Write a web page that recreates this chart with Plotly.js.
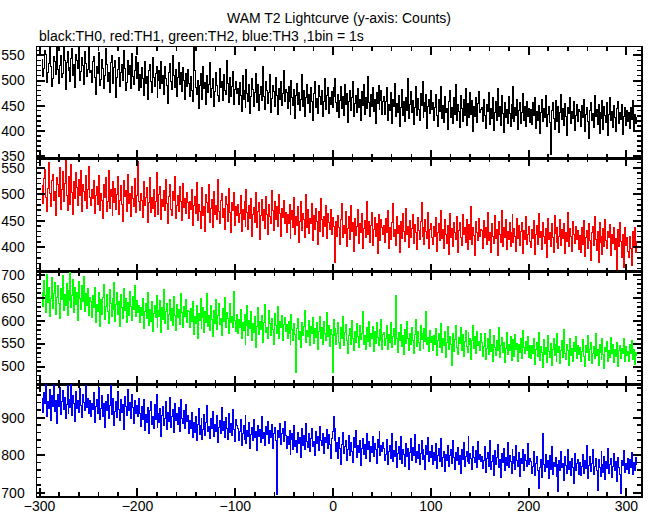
<!DOCTYPE html>
<html><head><meta charset="utf-8">
<script src="https://cdn.plot.ly/plotly-3.0.1.min.js"></script>
<style>html,body{margin:0;padding:0;background:#fff}
.scatterlayer path.js-line{shape-rendering:crispEdges}</style>
</head><body><div id="chart" style="width:652px;height:515px"></div>
<script>
const TITLE = "WAM T2 Lightcurve (y-axis: Counts)";
const SUBTITLE = "black:TH0, red:TH1, green:TH2, blue:TH3 ,1bin = 1s";
const binStart = -298;
const binWidth = 1;

const th0 = [
541,508,523,560,552,497,516,533,579,528,489,503,547,538,512,566,521,495,530,549,506,514,571,540,482,
535,557,519,526,498,544,563,510,531,487,552,539,524,568,501,517,546,529,493,558,533,507,522,575,515,
519,496,537,548,505,473,528,513,556,490,502,541,524,484,509,563,531,498,515,477,535,550,511,494,526,
539,467,506,521,545,488,516,532,501,559,523,480,497,540,512,529,485,554,508,493,520,547,503,536,481,
512,486,525,503,471,537,494,508,462,519,531,499,477,545,506,489,514,528,466,501,520,484,538,495,510,
473,527,504,491,455,516,533,498,482,550,509,487,522,469,506,535,492,515,478,526,500,463,513,489,521,
495,468,507,481,459,574,519,486,472,501,444,490,513,477,462,528,485,497,453,509,476,492,536,466,484,
503,449,478,515,491,470,458,524,487,499,461,511,480,473,539,494,457,506,469,488,517,452,483,498,475,
485,452,497,471,438,509,463,480,446,521,474,459,492,435,468,503,482,449,477,514,456,493,441,472,488,
460,527,469,443,498,481,454,476,512,437,465,490,478,448,506,470,433,484,462,499,451,475,519,458,483,
477,444,489,458,432,501,466,450,483,425,470,495,453,476,440,462,511,448,481,429,467,492,455,473,437,
486,459,421,474,498,447,464,435,490,469,452,480,428,458,504,443,471,487,434,466,453,479,446,486,468,
503,457,439,472,426,461,488,445,468,431,493,452,475,417,459,481,440,466,499,428,454,470,436,485,447,
462,421,478,451,492,433,467,444,508,456,429,473,449,486,438,463,415,477,454,490,443,460,481,432,458,
468,433,459,487,421,452,440,476,414,462,449,495,428,455,437,471,409,446,483,430,458,419,467,441,503,
425,453,478,436,461,412,447,489,431,465,443,420,474,450,498,427,456,438,472,405,449,463,434,481,442,
457,420,446,473,431,409,462,439,488,425,451,416,469,436,444,402,458,481,427,447,414,466,433,492,421,
452,438,407,471,445,419,463,430,484,411,455,440,426,476,433,461,398,449,428,467,417,454,479,436,443,
447,418,462,431,404,453,439,477,412,444,425,466,401,437,458,420,485,429,449,411,471,434,397,456,427,
442,415,468,435,408,452,424,489,419,446,431,463,403,440,457,414,436,474,421,448,409,459,428,445,417,
442,413,457,430,466,404,438,421,451,395,436,462,418,445,427,470,409,433,448,416,353,440,456,425,403,
461,432,419,449,397,437,473,422,444,410,455,428,391,446,434,467,415,439,424,458,400,431,452,418,443,
438,409,451,426,463,399,432,447,418,384,441,457,420,435,406,470,428,443,413,452,395,437,424,461,402,
448,431,417,456,390,433,466,421,439,407,450,426,398,444,459,415,436,422,453,392,429,447,411,440,418,
437,405,446,423,461,398,432,415,428];

const th1 = [
516,483,529,547,494,468,511,560,502,477,525,538,489,506,459,531,518,495,550,472,508,543,486,521,564,
497,470,514,533,481,556,503,462,524,491,540,512,479,527,498,545,467,519,505,488,536,474,509,552,493,
478,509,492,525,463,497,514,481,536,470,502,488,455,519,493,531,467,486,545,474,508,496,459,523,484,
511,471,500,533,462,489,517,480,449,526,495,507,468,538,483,501,458,514,491,476,529,466,498,562,487,
470,501,489,456,523,478,494,512,447,485,531,466,493,474,509,458,487,540,481,462,499,515,452,490,476,
507,469,528,483,445,496,518,472,460,505,488,533,455,479,497,467,514,486,451,520,475,492,463,503,484,
455,487,472,509,441,478,496,463,522,450,481,467,435,493,512,459,476,430,499,484,465,518,447,473,490,
437,506,462,479,453,527,468,444,488,501,457,474,433,495,481,449,511,466,428,485,470,503,442,477,460,
481,446,463,498,429,471,452,487,440,509,466,433,478,455,492,421,461,475,447,503,437,468,484,415,459,
490,450,472,436,496,462,425,481,458,444,507,469,431,486,453,476,440,499,464,420,473,457,489,445,466,
428,462,445,481,416,453,470,437,493,424,458,441,476,409,449,487,431,464,452,419,500,438,471,426,455,
445,482,413,460,434,474,448,405,467,429,491,453,421,458,440,479,417,463,446,434,472,425,457,439,386,
371,448,421,459,437,406,452,483,419,441,426,467,401,435,458,414,479,430,447,392,455,422,439,472,408,
444,428,463,397,436,451,418,486,425,449,410,441,466,404,433,457,420,445,389,461,431,413,452,437,424,
441,409,454,428,469,398,437,415,446,482,421,433,403,458,426,441,390,449,417,463,430,411,474,424,439,
400,451,419,436,461,407,443,427,395,456,432,414,448,485,420,438,405,452,429,416,466,397,433,445,418,
405,439,421,456,393,428,444,412,470,417,433,398,452,425,408,441,387,463,419,435,401,447,428,414,458,
391,431,446,418,403,461,424,437,409,452,396,429,443,415,476,406,437,422,385,449,427,413,455,420,434,
432,398,451,419,437,405,466,412,428,391,444,421,407,459,416,433,384,448,425,410,470,402,438,419,453,
395,430,414,446,401,427,462,409,436,420,393,455,417,441,404,429,447,388,432,415,458,406,424,439,411,
399,434,416,451,387,425,442,406,463,418,430,395,447,421,408,436,380,455,414,428,401,444,419,391,459,
426,410,437,398,421,452,404,433,416,445,389,427,411,466,402,435,420,393,449,424,407,440,415,431,396,
422,390,437,406,451,383,419,431,398,444,412,376,427,440,403,458,415,394,429,372,446,409,421,387,436,
401,452,413,397,430,419,443,385,424,407,438,395,416,359,433,402,447,411,380,425,362,437,404,418,393,
381,420,398,366,429,403,438,391,412];

const th2 = [
662,631,687,655,618,701,640,673,609,648,694,627,659,683,614,651,676,638,604,669,645,698,622,657,634,
680,611,666,643,707,629,654,690,617,672,636,661,600,685,648,625,677,641,696,620,658,633,671,612,650,
641,607,654,628,673,596,635,619,662,588,645,613,651,679,602,631,657,620,594,667,638,609,648,625,683,
599,636,661,614,642,587,657,629,604,670,621,648,595,639,612,664,630,601,653,624,676,608,643,617,634,
596,629,611,648,583,620,637,604,661,590,625,599,642,577,616,633,607,655,586,621,610,643,574,628,603,
667,594,619,638,581,614,647,600,626,589,653,612,579,635,606,624,592,658,617,584,631,609,645,597,622,
619,585,627,598,641,570,608,593,634,561,615,601,649,583,606,628,575,620,596,659,587,611,579,632,603,
566,623,594,645,580,612,637,591,604,568,626,599,651,584,617,605,573,638,596,610,586,663,601,577,614,
572,603,586,625,561,597,579,614,548,590,632,567,601,583,619,556,594,575,609,542,588,628,570,599,581,
612,553,595,636,574,586,560,621,593,567,604,580,547,616,589,571,630,562,598,584,611,557,592,606,576,
591,562,598,571,547,613,580,556,594,569,486,583,604,559,577,541,596,568,587,622,553,579,565,601,546,
588,572,607,551,583,564,595,538,576,610,561,585,549,599,573,557,618,566,590,544,581,570,488,603,567,
582,548,571,597,553,539,586,562,608,545,574,591,556,529,568,583,547,600,561,535,577,552,594,566,541,
589,558,573,620,549,567,537,584,555,598,543,571,560,587,533,576,550,595,564,546,581,557,603,538,569,
574,545,561,589,538,570,553,597,541,566,583,549,654,560,531,575,556,592,543,568,527,580,551,599,562,
536,573,548,586,557,529,569,603,544,577,552,534,590,559,571,540,582,555,619,547,564,532,578,553,566,
535,568,549,582,524,556,571,541,593,530,560,546,577,519,552,587,538,565,547,503,572,533,558,590,542,
527,563,551,584,536,569,521,555,579,544,531,574,548,562,516,557,589,539,566,529,576,545,554,534,571,
553,521,544,572,516,539,560,527,581,533,548,512,567,541,524,557,535,585,519,546,563,530,552,508,540,
575,526,549,536,565,514,543,558,522,570,537,551,510,547,531,562,518,579,542,528,555,534,566,520,545,
517,546,529,561,505,538,552,521,575,513,543,530,497,558,526,541,509,567,533,519,550,502,537,562,524,
548,511,571,531,544,507,536,556,520,581,528,515,549,535,503,560,523,539,512,553,532,566,518,545,527,
542,510,533,558,521,499,545,530,567,514,537,552,506,529,544,518,573,524,538,503,549,531,516,560,526,
495,541,532,555,512,534,519,564,528,547,508,538,522,553,501,535,546,517,540,529,562,511,543,524,532,
510,547,529,556,515,538,504,531,522];

const th3 = [
951,914,968,937,990,902,944,925,976,893,958,931,999,916,947,885,963,929,981,908,942,972,921,954,897,
936,985,912,949,928,1003,906,959,938,889,970,924,945,915,979,933,900,962,941,919,987,927,952,910,946,
903,939,921,966,888,930,949,912,981,895,925,958,904,937,873,944,919,962,897,932,986,909,927,951,880,
916,942,901,970,923,893,948,914,935,868,956,929,906,975,918,940,899,961,926,884,945,911,933,903,952,
912,877,931,896,949,865,908,886,927,859,918,943,881,903,870,936,894,962,873,912,888,924,851,906,931,
879,897,944,868,915,889,955,874,902,921,860,937,893,912,881,926,864,948,899,885,919,872,934,890,907,
858,893,870,914,846,887,861,902,838,881,925,855,879,897,842,868,909,853,886,932,864,877,845,898,871,
916,849,883,862,906,835,874,893,857,928,866,889,848,901,872,842,911,860,884,853,921,869,837,895,878,
871,838,862,894,826,857,879,843,905,831,866,849,887,819,855,874,838,896,847,862,812,880,851,869,833,
903,844,861,825,877,855,891,830,866,848,882,817,859,873,840,694,865,846,884,829,857,871,836,889,852,
818,851,829,866,801,842,857,815,879,824,839,806,861,832,848,795,870,827,853,814,884,836,820,858,809,
845,872,823,837,799,863,831,850,812,876,840,826,859,804,847,835,868,817,855,829,790,844,862,903,838,
871,809,834,792,846,818,776,829,861,804,823,840,787,815,853,799,833,811,781,848,821,866,795,827,808,
839,773,818,845,802,829,791,857,814,836,784,823,806,849,797,831,815,778,842,820,864,800,826,811,835,
817,785,803,842,776,809,826,791,858,783,812,797,836,768,805,823,789,849,779,815,801,770,832,796,818,
763,807,844,786,821,798,855,780,811,792,829,774,804,838,789,816,799,761,825,803,847,782,810,794,827,
776,808,787,831,765,799,818,782,845,771,795,810,757,803,787,826,769,798,814,779,839,793,763,806,787,
821,774,800,752,816,788,833,770,797,811,784,849,778,804,791,762,823,795,780,812,767,836,789,801,783,
797,764,786,822,755,790,807,771,838,762,784,799,747,812,776,793,828,766,789,741,805,781,819,758,795,
772,834,768,800,783,751,814,779,796,761,826,787,770,808,744,792,777,816,760,803,785,769,831,776,791,
784,752,771,809,745,778,797,760,712,766,789,741,857,774,756,803,768,785,737,799,763,822,749,781,770,
794,742,776,702,787,758,811,767,779,733,796,773,752,815,761,782,746,791,768,725,804,759,777,788,749,
781,746,769,802,751,785,764,826,739,773,796,757,779,814,748,771,792,760,705,788,767,743,809,775,754,
797,736,782,764,819,752,776,791,741,770,805,758,783,729,794,766,748,698,787,772,813,753,779,761,790,
752,789,766,807,748,781,760,795,774];

const seriesValues = [th0, th1, th2, th3];
const seriesNames = ["TH0", "TH1", "TH2", "TH3"];
const seriesColors = ["#000000", "#ff0000", "#00ff00", "#0000ff"];
const xRange = [-302.7, 314.9];
const yRanges = [[345.5, 566.5], [354.5, 567.5], [461.5, 707], [691, 989.5]];
const yDticks = [50, 50, 50, 100];
const yMinorDticks = [10, 10, 10, 20];
const domains = [[0.752, 1], [0.5, 0.752], [0.249, 0.5], [0, 0.249]];

const font = {family: "Liberation Sans, Arial, sans-serif", size: 14, color: "#000"};
const traces = [];
const layout = {
  width: 652, height: 515,
  margin: {l: 37, r: 11, t: 47, b: 19, pad: 0},
  paper_bgcolor: "#fff", plot_bgcolor: "#fff",
  showlegend: false,
  font: font,
  title: {text: TITLE, font: font, x: 0.5, xref: "paper", xanchor: "center", y: 1 - 18/515, yref: "container", yanchor: "middle"},
  annotations: [{text: SUBTITLE, xref: "paper", yref: "paper", x: 0, y: 1 + 11/449, xanchor: "left", yanchor: "middle", showarrow: false, font: font}]
};

seriesValues.forEach((vals, i) => {
  const sfx = i === 0 ? "" : String(i + 1);
  traces.push({
    type: "scatter", mode: "lines", name: seriesNames[i],
    x: vals.map((_, k) => binStart + k * binWidth),
    y: vals,
    xaxis: "x" + sfx, yaxis: "y" + sfx,
    line: {color: seriesColors[i], width: 1, shape: "hv"},
    hoverinfo: "skip"
  });
  layout["xaxis" + sfx] = {
    anchor: "y" + sfx, domain: [0, 1], range: xRange,
    tick0: 0, dtick: 100, ticks: "inside", ticklen: 8, tickwidth: 2, tickcolor: "#000",
    showline: true, linecolor: "#000", linewidth: 1.5, mirror: "ticks",
    showgrid: false, zeroline: false, showticklabels: i === 3, tickfont: font,
    ticklabelstandoff: -3,
    minor: {tick0: 0, dtick: 20, ticks: "inside", ticklen: 4, tickwidth: 1.5, tickcolor: "#000", showgrid: false}
  };
  layout["yaxis" + sfx] = {
    anchor: "x" + sfx, domain: domains[i], range: yRanges[i],
    tick0: 0, dtick: yDticks[i], ticks: "inside", ticklen: 8, tickwidth: 2, tickcolor: "#000",
    showline: true, linecolor: "#000", linewidth: 1.5, mirror: "ticks",
    showgrid: false, zeroline: false, tickfont: font,
    ticklabelstandoff: 8,
    minor: {tick0: 0, dtick: yMinorDticks[i], ticks: "inside", ticklen: 4, tickwidth: 1.5, tickcolor: "#000", showgrid: false}
  };
});

Plotly.newPlot("chart", traces, layout, {staticPlot: true, displayModeBar: false});
</script></body></html>
